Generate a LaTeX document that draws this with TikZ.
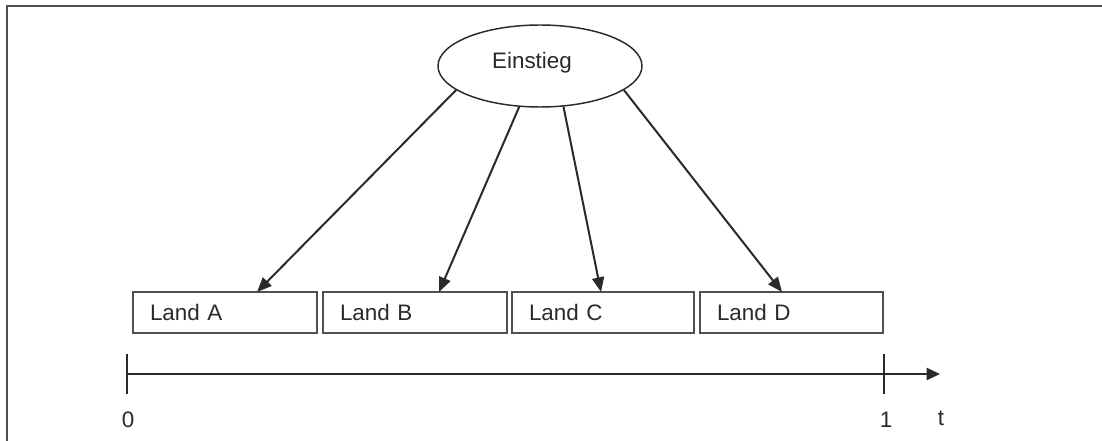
\documentclass[tikz,border=0pt]{standalone}
\usepackage{fontspec}
\setmainfont{Liberation Sans}
\usetikzlibrary{arrows.meta,shapes.geometric}
\definecolor{ink}{HTML}{2A2A2A}
\definecolor{frm}{HTML}{505050}
\begin{document}
\begin{tikzpicture}[x=0.75pt,y=-0.75pt,
  lbl/.style={font=\fontsize{16.8pt}{19pt}\selectfont, text=ink},
  landbox/.style={draw=frm, line width=1pt, minimum height=41*0.75pt,
     inner xsep=12.75pt, inner ysep=0pt, text width=150*0.75pt, align=left,
     text depth=0pt, lbl},
  oval/.style={ellipse, draw=ink, line width=1.1pt, minimum width=204*0.75pt,
     minimum height=82*0.75pt, inner sep=0pt, lbl},
  conn/.style={draw=ink, line width=1.5pt, -{Triangle[length=11pt,width=9pt]}},
  frameline/.style={draw=frm, line width=1.5pt}
]
\useasboundingbox (0,0) rectangle (1102,441);
\fill[white] (0,0) rectangle (1102,441);
% frame
\coordinate (f0) at (7,441);
\coordinate (f1) at (7,6);
\coordinate (f2) at (1102,6);
\draw[frameline] (f0) -- (f1) -- (f2);
% ellipse
\node[oval] (E) at (540,66) {};
\node[lbl] (Et) at (532,63) {Einstieg};
% boxes
\node[landbox] (A) at (225,312.5) {Land A};
\node[landbox] (B) at (415,312.5) {Land B};
\node[landbox, text width=148*0.75pt] (C) at (603,312.5) {Land C};
\node[landbox, text width=149*0.75pt] (D) at (791.5,312.5) {Land D};
% arrow targets
\coordinate (tA) at (257,292);
\coordinate (tB) at (439,292);
\coordinate (tC) at (601,292);
\coordinate (tD) at (782,292);
\draw[conn] (E.196) -- (tA);
\draw[conn] (E.243) -- (tB);
\draw[conn] (E.300) -- (tC);
\draw[conn] (E.344) -- (tD);
% axis
\coordinate (ax0) at (127,374);
\coordinate (ax1) at (940,374);
\coordinate (k0a) at (127,354);
\coordinate (k0b) at (127,394);
\coordinate (k1a) at (884,354);
\coordinate (k1b) at (884,394);
\draw[draw=ink, line width=1.6pt, -{Triangle[length=10pt,width=9pt]}] (ax0) -- (ax1);
\draw[draw=ink, line width=1.4pt] (k0a) -- (k0b);
\draw[draw=ink, line width=1.4pt] (k1a) -- (k1b);
\node[lbl] (z) at (128,420) {0};
\node[lbl] (o) at (886,420) {1};
\node[lbl] (t) at (941,418) {t};
\end{tikzpicture}
\end{document}
